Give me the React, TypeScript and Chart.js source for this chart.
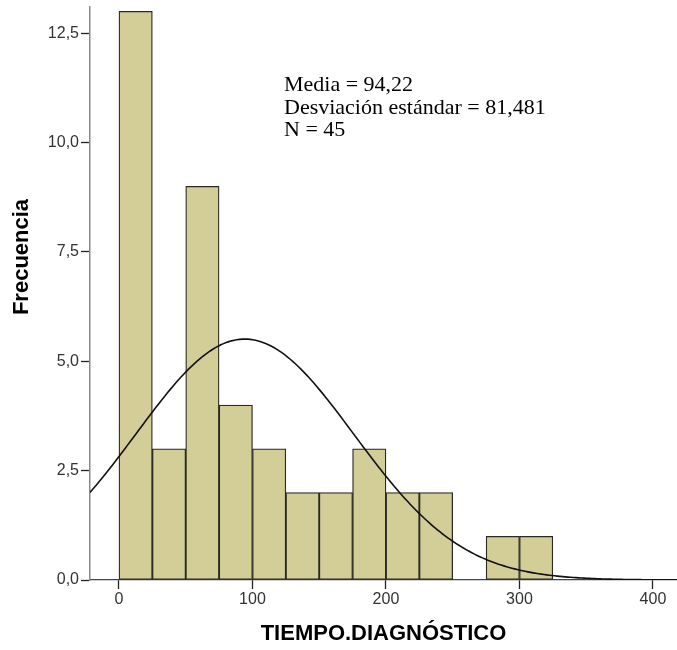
import React, { useEffect, useRef } from 'react';
import { Chart, registerables } from 'chart.js';

Chart.register(...registerables);

// ---- data ----
const BIN_STARTS = [0, 25, 50, 75, 100, 125, 150, 175, 200, 225, 250, 275, 300];
const BIN_WIDTH = 25;
const COUNTS = [13, 3, 9, 4, 3, 2, 2, 3, 2, 2, 0, 1, 1];
const MEAN = 94.22;
const STD_DEV = 81.481;
const N_TOTAL = 45;
const X_TICKS = [0, 100, 200, 300, 400];
const Y_TICKS = [0, 2.5, 5, 7.5, 10, 12.5];
const STATS_LINES = ['Media = 94,22', 'Desviación estándar = 81,481', 'N = 45'];
const X_TITLE = 'TIEMPO.DIAGNÓSTICO';
const Y_TITLE = 'Frecuencia';
const X_MIN = -21.7;
const X_MAX = 418;
const Y_MAX = 13.1;

// fitted normal curve (SPSS style), scaled to counts per bin
function normalCurve() {
  const pts: { x: number; y: number }[] = [];
  const k = (N_TOTAL * BIN_WIDTH) / (STD_DEV * Math.sqrt(2 * Math.PI));
  for (let x = X_MIN; x <= X_MAX + 2; x += 2) {
    const z = (x - MEAN) / STD_DEV;
    pts.push({ x, y: k * Math.exp(-0.5 * z * z) });
  }
  return pts;
}

const overlayPlugin = {
  id: 'overlay',
  afterDraw(chart: any) {
    const ctx = chart.ctx;
    ctx.save();
    ctx.font = 'bold 22px "Liberation Sans", Arial, sans-serif';
    ctx.fillStyle = '#000';
    ctx.textAlign = 'center';
    ctx.textBaseline = 'middle';
    ctx.translate(22, 257);
    ctx.rotate(-Math.PI / 2);
    ctx.fillText(Y_TITLE, 0, 0);
    ctx.restore();

    ctx.save();
    ctx.font = '22px "Liberation Serif", "Times New Roman", serif';
    ctx.fillStyle = '#000';
    ctx.textAlign = 'left';
    ctx.textBaseline = 'alphabetic';
    STATS_LINES.forEach((t, i) => ctx.fillText(t, 284, 91 + i * 22.5));
    ctx.restore();
  },
};

export default function App() {
  const ref = useRef<HTMLCanvasElement | null>(null);
  useEffect(() => {
    if (!ref.current) return;
    const chart = new Chart(ref.current, {
      type: 'bar',
      data: {
        datasets: [
          {
            type: 'line',
            data: normalCurve(),
            borderColor: '#111',
            borderWidth: 1.6,
            pointRadius: 0,
            tension: 0,
            fill: false,
            order: 0,
          } as any,
          {
            type: 'bar',
            data: BIN_STARTS.map((s, i) => ({ x: s + BIN_WIDTH / 2, y: COUNTS[i] })),
            backgroundColor: '#D3CE98',
            borderColor: '#2a2a20',
            borderWidth: 1.3,
            borderSkipped: false,
            barPercentage: 1,
            categoryPercentage: 1,
            order: 1,
          } as any,
        ],
      },
      options: {
        responsive: false,
        animation: false,
        events: [],
        layout: { padding: { top: 7, right: 0, left: 0, bottom: 0 } },
        plugins: { legend: { display: false }, tooltip: { enabled: false } },
        scales: {
          x: {
            type: 'linear',
            offset: false,
            min: X_MIN,
            max: X_MAX,
            afterBuildTicks: (s: any) => {
              s.ticks = X_TICKS.map((v) => ({ value: v }));
            },
            afterFit: (s: any) => {
              s.height = 70;
              s.paddingLeft = 0;
              s.paddingRight = 0;
            },
            ticks: {
              color: '#333',
              font: { size: 16, family: '"Liberation Sans", Arial, sans-serif' },
              padding: 1,
              maxRotation: 0,
              callback: (v: any) => String(v),
            },
            grid: {
              offset: false,
              drawOnChartArea: false,
              drawTicks: true,
              tickLength: 9,
              tickColor: '#222',
              tickWidth: 1.3,
            },
            border: { display: true, color: '#444', width: 1.2 },
            title: {
              display: true,
              text: X_TITLE,
              color: '#000',
              font: { size: 22, weight: 'bold', family: '"Liberation Sans", Arial, sans-serif' },
              padding: { top: 0, bottom: 3 },
            },
          },
          y: {
            type: 'linear',
            min: 0,
            max: Y_MAX,
            afterBuildTicks: (s: any) => {
              s.ticks = Y_TICKS.map((v) => ({ value: v }));
            },
            afterFit: (s: any) => {
              s.width = 90;
              s.paddingTop = 0;
              s.paddingBottom = 0;
            },
            ticks: {
              color: '#333',
              font: { size: 16, family: '"Liberation Sans", Arial, sans-serif' },
              padding: 2,
              callback: (v: any) => Number(v).toFixed(1).replace('.', ','),
            },
            grid: {
              drawOnChartArea: false,
              drawTicks: true,
              tickLength: 9,
              tickColor: '#222',
              tickWidth: 1.3,
            },
            border: { display: true, color: '#888', width: 1.5 },
          },
        },
      } as any,
      plugins: [overlayPlugin],
    });
    return () => chart.destroy();
  }, []);
  return (
    <div style={{ position: 'absolute', left: 0, top: 0, width: 677, height: 650, background: '#fff' }}>
      <canvas ref={ref} width={677} height={650} style={{ display: 'block' }} />
    </div>
  );
}
